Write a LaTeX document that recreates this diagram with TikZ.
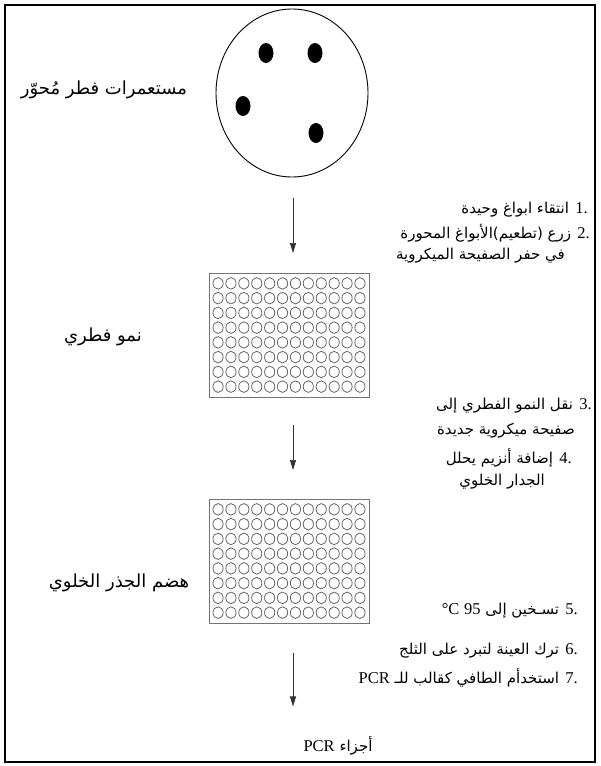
\documentclass[tikz,border=0pt]{standalone}
\usepackage{fontspec}
\usetikzlibrary{arrows.meta,shapes.geometric}
\TeXXeTstate=1
\newfontfamily\arabicfont[Script=Arabic]{DejaVu Sans}
\newfontfamily\latinfont{Liberation Serif}
\newcommand{\lat}[1]{{\latinfont\fontsize{16.5}{18}\selectfont #1}}

\begin{document}
\begin{tikzpicture}[x=1pt,y=-1pt,
        steptext/.style={anchor=east,inner sep=0pt,font=\arabicfont\fontsize{15}{18}\selectfont},
        bigtext/.style={inner sep=0pt,font=\arabicfont\fontsize{18}{22}\selectfont},
        plate/.style={draw=black!55,line width=1.2pt,minimum width=160pt,minimum height=124pt,inner sep=0pt,anchor=north west},
        well/.style={draw=black!60,line width=0.8pt},
        flow/.style={draw=black!80,line width=0.7pt,-{Triangle[length=10pt,width=6pt]}}]
        \useasboundingbox (0,0) rectangle (600,766);
        \draw[line width=2.6pt] (5,5) rectangle (595,762);
        \node[draw,ellipse,minimum width=152pt,minimum height=168pt,inner sep=0pt,line width=0.9pt] (dish) at (292,93) {};
        \fill (266,53) ellipse (7.5 and 10);
        \fill (315,53) ellipse (7.5 and 10);
        \fill (243,106) ellipse (7.5 and 10);
        \fill (316,133) ellipse (7.5 and 10);
        \node[bigtext] (colonies) at (104,90) {\beginR مستعمرات فطر مُحوّر\endR};
        \node[plate] (plateA) at (209,273) {};
        \node[plate] (plateB) at (209,499) {};
        \foreach \p in {plateA,plateB}
          \foreach \i in {1,...,12}
            \foreach \j in {1,...,8}
              \draw[well] ([xshift={2.6pt+(\i-0.5)*12.9pt},yshift={-3pt-(\j-0.5)*14.75pt}]\p.north west) ellipse [x radius=5.1pt,y radius=5.8pt];
        \node[bigtext] (growth) at (103,337) {\beginR نمو فطري\endR};
        \node[bigtext] (digest) at (119,583) {\beginR هضم الجذر الخلوي\endR};
        \node[steptext] (s1) at (588,210) {\beginR\lat{1.} انتقاء ابواغ وحيدة\endR};
        \node[steptext] (s2) at (590,233) {\beginR\lat{2.} زرع (تطعيم)الأبواغ المحورة\endR};
        \node[steptext] (s2b) at (565,256) {\beginR في حفر الصفيحة الميكروية\endR};
        \node[steptext] (s3) at (592,406) {\beginR\lat{3.} نقل النمو الفطري إلى\endR};
        \node[steptext] (s3b) at (575,431) {\beginR صفيحة ميكروية جديدة\endR};
        \node[steptext] (s4) at (572,458) {\beginR\lat{4.} إضافة أنزيم يحلل\endR};
        \node[steptext] (s4b) at (545,482) {\beginR الجدار الخلوي\endR};
        \node[steptext] (s5) at (578,611) {\beginR\lat{5.} تسـخين إلى \lat{95} \lat{°C}\endR};
        \node[steptext] (s6) at (578,651) {\beginR\lat{6.} ترك العينة لتبرد على الثلج\endR};
        \node[steptext] (s7) at (578,678) {\beginR\lat{7.} استخدأم الطافي كقالب للـ \lat{PCR}\endR};
        \node[steptext,anchor=center] (pcr) at (338,746) {\beginR أجزاء \lat{PCR}\endR};
        \coordinate (axis) at (293,0);
        \draw[flow] (axis |- dish.south) ++(0,21) -- ([yshift=20pt]axis |- plateA.north);
        \draw[flow] (axis |- plateA.south) ++(0,27) -- ([yshift=29pt]axis |- plateB.north);
        \draw[flow] (axis |- plateB.south) ++(0,29) -- ([yshift=30pt]axis |- pcr.north);
\end{tikzpicture}
\end{document}
